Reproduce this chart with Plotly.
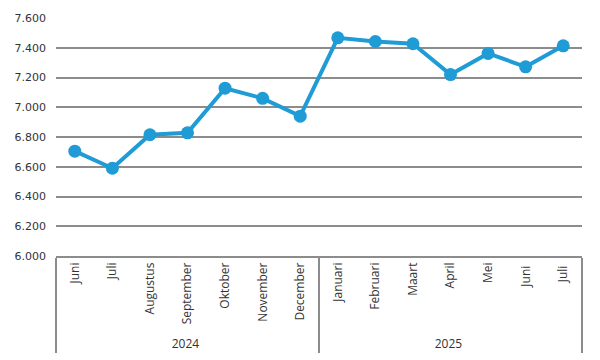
import plotly.graph_objects as go

years = ["2024"] * 7 + ["2025"] * 7
# trailing space keeps the 2025 "Juni"/"Juli" distinct so plotly keeps chronological order
months = ["Juni", "Juli", "Augustus", "September", "Oktober", "November", "December",
          "Januari", "Februari", "Maart", "April", "Mei", "Juni ", "Juli "]
values = [6705, 6590, 6815, 6828, 7128, 7060, 6940,
          7467, 7442, 7427, 7220, 7362, 7272, 7413]

fig = go.Figure(go.Scatter(
    x=[years, months], y=values, mode="lines+markers",
    line=dict(color="#1f9bd6", width=4),
    marker=dict(color="#1f9bd6", size=13),
    cliponaxis=False,
    hoverinfo="skip"))

fig.update_layout(
    width=600, height=360, margin=dict(l=56, r=18, t=18, b=104),
    plot_bgcolor="white", paper_bgcolor="white", showlegend=False,
    separators=",.",
    font=dict(family="Open Sans", size=12, color="#333333"),
)
fig.update_yaxes(range=[6000, 7600], dtick=200, tickformat=",.0f",
                 showgrid=True, gridcolor="#8c8c8c", gridwidth=1.5,
                 zeroline=False, ticks="", automargin=False,
                 ticklabelstandoff=9,
                 tickfont=dict(family="DejaVu Sans", size=11, color="#333333"))
fig.update_xaxes(type="multicategory", tickangle=-90, showline=True,
                 range=[-0.5, len(values) - 0.5],
                 linecolor="#8c8c8c", linewidth=1.5, automargin=False,
                 showdividers=True, dividercolor="#8c8c8c", dividerwidth=1.5,
                 tickfont=dict(family="Open Sans", size=12, color="#333333"))

fig.write_html("out.html", config={"displayModeBar": False},
               post_script="document.body.style.margin='0';")
